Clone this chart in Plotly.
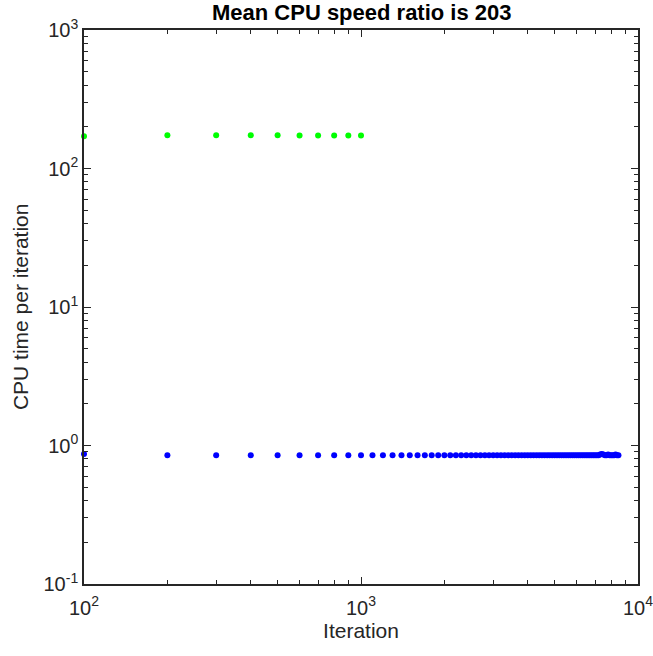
import plotly.graph_objects as go

# Data
green_iter = [100, 200, 300, 400, 500, 600, 700, 800, 900, 1000]
green_time = [171, 174, 174, 174, 174, 173, 173, 173, 173, 173]

blue_iter = [100, 200, 300, 400, 500, 600, 700, 800, 900, 1000,
             1100, 1200, 1300, 1400, 1500, 1600, 1700, 1800, 1900, 2000,
             2100, 2200, 2300, 2400, 2500, 2600, 2700, 2800, 2900, 3000,
             3100, 3200, 3300, 3400, 3500, 3600, 3700, 3800, 3900, 4000,
             4100, 4200, 4300, 4400, 4500, 4600, 4700, 4800, 4900, 5000,
             5100, 5200, 5300, 5400, 5500, 5600, 5700, 5800, 5900, 6000,
             6100, 6200, 6300, 6400, 6500, 6600, 6700, 6800, 6900, 7000,
             7100, 7200, 7300, 7400, 7500, 7600, 7700, 7800, 7900, 8000,
             8100, 8200, 8300, 8400, 8500]
blue_time = [0.87, 0.85, 0.85, 0.85, 0.85, 0.85, 0.85, 0.85, 0.85, 0.85,
             0.85, 0.85, 0.85, 0.85, 0.85, 0.85, 0.85, 0.85, 0.85, 0.85,
             0.85, 0.85, 0.85, 0.85, 0.85, 0.85, 0.85, 0.85, 0.85, 0.85,
             0.85, 0.85, 0.85, 0.85, 0.85, 0.85, 0.85, 0.85, 0.85, 0.85,
             0.85, 0.85, 0.85, 0.85, 0.85, 0.85, 0.85, 0.85, 0.85, 0.85,
             0.85, 0.85, 0.85, 0.85, 0.85, 0.85, 0.85, 0.85, 0.85, 0.85,
             0.85, 0.85, 0.85, 0.85, 0.85, 0.85, 0.85, 0.85, 0.85, 0.85,
             0.85, 0.85, 0.86, 0.87, 0.86, 0.85, 0.85, 0.86, 0.85, 0.85,
             0.85, 0.85, 0.86, 0.85, 0.85]

x_major = [100, 1000, 10000]
x_major_text = ["10<sup>2</sup>", "10<sup>3</sup>", "10<sup>4</sup>"]
y_major = [0.1, 1, 10, 100, 1000]
y_major_text = ["10<sup>-1</sup>", "10<sup>0</sup>", "10<sup>1</sup>",
                "10<sup>2</sup>", "10<sup>3</sup>"]
x_minor = [m * d for d in [100, 1000] for m in range(2, 10)]
y_minor = [m * d for d in [0.1, 1, 10, 100] for m in range(2, 10)]

title_text = "Mean CPU speed ratio is 203"
x_title = "Iteration"
y_title = "CPU time per iteration"

axis_col = "#262626"
font_fam = "Liberation Sans, Arial, sans-serif"

fig = go.Figure()
fig.add_trace(go.Scatter(x=green_iter, y=green_time, mode="markers",
                         marker=dict(color="#00ff00", size=6),
                         showlegend=False, cliponaxis=False))
fig.add_trace(go.Scatter(x=blue_iter, y=blue_time, mode="markers",
                         marker=dict(color="#0000ff", size=6),
                         showlegend=False, cliponaxis=False))

common = dict(showgrid=False, zeroline=False, showline=True, linecolor=axis_col,
              linewidth=1.6, mirror="ticks", ticks="inside", ticklen=7,
              tickwidth=1.2, tickcolor=axis_col, automargin=False,
              ticklabeloverflow="allow",
              tickfont=dict(family=font_fam, size=20, color=axis_col))

fig.update_xaxes(type="log", range=[2, 4], tickmode="array",
                 tickvals=x_major, ticktext=x_major_text, ticklabelstandoff=5,
                 minor=dict(tickmode="array", tickvals=x_minor, ticks="inside",
                            ticklen=4, tickwidth=1.2, tickcolor=axis_col, showgrid=False),
                 title=dict(text=x_title, font=dict(family=font_fam, size=21, color=axis_col),
                            standoff=3),
                 **common)
fig.update_yaxes(type="log", range=[-1, 3], tickmode="array",
                 tickvals=y_major, ticktext=y_major_text,
                 minor=dict(tickmode="array", tickvals=y_minor, ticks="inside",
                            ticklen=4, tickwidth=1.2, tickcolor=axis_col, showgrid=False),
                 **common)

fig.add_annotation(text=y_title, textangle=-90, xref="paper", yref="paper",
                   x=-0.1153, y=0.5, xanchor="center", yanchor="middle",
                   showarrow=False,
                   font=dict(family=font_fam, size=21, color=axis_col))

fig.update_layout(
    width=653, height=656,
    margin=dict(l=84, r=15, t=30, b=72),
    paper_bgcolor="white", plot_bgcolor="white",
    title=dict(text="<b>" + title_text + "</b>", x=0.554, xanchor="center",
               y=0.981, yanchor="middle",
               font=dict(family=font_fam, size=22, color="black")),
)

fig.write_html("out.html")
